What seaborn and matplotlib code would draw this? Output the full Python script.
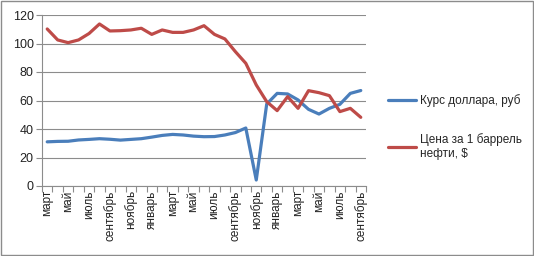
import numpy as np
import pandas as pd
import matplotlib
matplotlib.use("Agg")
import matplotlib.pyplot as plt
import seaborn as sns
from matplotlib.patches import Rectangle

# ------------- Data -------------
months = ["март", "апрель", "май", "июнь", "июль", "август", "сентябрь", "октябрь",
          "ноябрь", "декабрь", "январь", "февраль"]
# March 2013 .. September 2015
periods = [months[i % 12] for i in range(31)]

usd_rub = [31.0, 31.3, 31.4, 32.3, 32.7, 33.2, 32.8, 32.2, 32.7, 33.2,
           34.3, 35.5, 36.2, 35.8, 35.0, 34.6, 34.7, 35.8, 37.5, 40.7,
           4.2, 57.5, 65.0, 64.6, 60.4, 53.8, 50.5, 54.5, 57.3, 65.0, 67.0]
oil_price = [110.2, 102.5, 100.6, 102.5, 107.0, 113.7, 108.8, 109.0, 109.5, 110.7,
             106.4, 109.5, 107.8, 107.8, 109.5, 112.5, 106.4, 103.2, 94.3, 86.1,
             70.9, 59.2, 52.9, 62.7, 54.5, 66.9, 65.5, 63.4, 52.2, 54.5, 48.2]

series_names = ["Курс доллара, руб", "Цена за 1 баррель\nнефти, $"]
colors = ["#4A7EBB", "#BE4B48"]

df = pd.DataFrame({
    "idx": list(range(31)) * 2,
    "value": usd_rub + oil_price,
    "series": [series_names[0]] * 31 + [series_names[1]] * 31,
})

# ------------- Plot -------------
sns.set_style("white")
plt.rcParams["font.family"] = ["Liberation Sans", "DejaVu Sans"]

fig = plt.figure(figsize=(5.34, 2.56), dpi=100)
ax = fig.add_axes([42 / 534, 1 - 186 / 256, (366 - 42) / 534, (186 - 15) / 256])

sns.lineplot(data=df, x="idx", y="value", hue="series", palette=colors,
             linewidth=2.3, ax=ax, legend=False)

ax.set_xlim(-0.5, 30.5)
ax.set_ylim(0, 120)
ax.set_yticks(range(0, 121, 20))
ax.yaxis.grid(True, color="#8C8C8C", linewidth=0.8)
ax.set_axisbelow(True)
ax.set_xlabel("")
ax.set_ylabel("")

ax.set_xticks(range(0, 31, 2))
ax.set_xticklabels(periods[::2], rotation=90, fontsize=8.5, color="#222222")
ax.set_xticks(np.arange(-0.5, 31, 1), minor=True)
ax.tick_params(axis="x", which="major", length=0, pad=3)
ax.tick_params(axis="x", which="minor", length=4, color="#8C8C8C", width=0.8, direction="out", bottom=True)
ax.tick_params(axis="y", length=4, color="#8C8C8C", width=0.8, direction="out", left=True,
               labelsize=9, labelcolor="#222222", pad=2)

for s in ["top", "right"]:
    ax.spines[s].set_visible(False)
for s in ["left", "bottom"]:
    ax.spines[s].set_color("#8C8C8C")
    ax.spines[s].set_linewidth(0.8)

handles = [plt.Line2D([], [], color=c, linewidth=2.3) for c in colors]
fig.legend(handles, series_names, loc="center left", bbox_to_anchor=(383 / 534, 0.505),
           frameon=False, fontsize=8.5, handlelength=2.4, handletextpad=0.3,
           labelspacing=2.2, borderaxespad=0)

fig.patches.append(Rectangle((0.002, 0.004), 0.996, 0.992, transform=fig.transFigure,
                             fill=False, edgecolor="#8C8C8C", linewidth=1))

fig.savefig("out.png", dpi=100)
print("Generated: out.png")
